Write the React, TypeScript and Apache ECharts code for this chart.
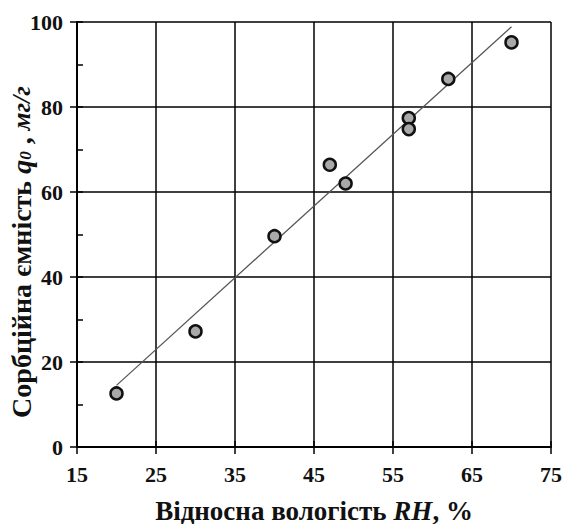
import React, { useEffect, useRef } from 'react';
import * as echarts from 'echarts';

const rhValues = [20, 30, 40, 47, 49, 57, 57, 62, 70];
const capacityValues = [12.6, 27.2, 49.6, 66.4, 62.0, 77.4, 74.8, 86.6, 95.2];
const fitX = [20, 70];
const fitY = [14.5, 98.9];
const xTickLabels = [15, 25, 35, 45, 55, 65, 75];
const yTickLabels = [0, 20, 40, 60, 80, 100];

const FONT = '"Liberation Serif", "DejaVu Serif", serif';
const TXT = '#111';
const TITLE_SIZE = 27;
const Y_TITLE_SIZE = 28;

export default function App() {
  const ref = useRef<HTMLDivElement>(null);
  useEffect(() => {
    if (!ref.current) return;
    const chart = echarts.init(ref.current, undefined, { renderer: 'svg' });
    const labelStyle = { fontFamily: FONT, fontWeight: 'bold' as const, fontSize: 22, color: TXT };
    chart.setOption({
      animation: false,
      backgroundColor: '#fff',
      grid: { left: 77, right: 15, top: 22, bottom: 77 },
      xAxis: [
        {
          type: 'value', min: xTickLabels[0], max: xTickLabels[xTickLabels.length - 1], interval: 10,
          position: 'bottom', offset: 0,
          axisLine: { show: false },
          axisTick: { show: true, inside: true, length: 6, lineStyle: { color: '#000', width: 1.5 } },
          axisLabel: { show: false },
          splitLine: { show: false },
        },
        {
          type: 'value', min: 0, max: xTickLabels[xTickLabels.length - 1] - xTickLabels[0], interval: 10,
          position: 'bottom', offset: 0,
          axisLine: { show: true, onZero: false, lineStyle: { color: '#000', width: 2 } },
          axisTick: { show: true, inside: false, length: 7, lineStyle: { color: '#000', width: 1.5 } },
          axisLabel: {
            ...labelStyle, margin: 16,
            formatter: (v: number) => String(xTickLabels[Math.round(v / 10)]),
          },
          splitLine: { show: true, lineStyle: { color: '#000', width: 1.5 } },
        },
      ],
      yAxis: [
        {
          type: 'value', min: yTickLabels[0], max: yTickLabels[yTickLabels.length - 1], interval: 20,
          position: 'left', offset: 0,
          axisLine: { show: true, onZero: false, lineStyle: { color: '#000', width: 2 } },
          axisTick: { show: true, inside: false, length: 7, lineStyle: { color: '#000', width: 1.5 } },
          axisLabel: { ...labelStyle, margin: 14 },
          splitLine: { show: true, lineStyle: { color: '#000', width: 1.5 } },
        },
        {
          type: 'value', min: 0, max: 100, interval: 10,
          position: 'left', offset: 0,
          axisLine: { show: false },
          axisTick: { show: true, inside: true, length: 6, lineStyle: { color: '#000', width: 1.5 } },
          axisLabel: { show: false },
          splitLine: { show: false },
        },
      ],
      series: [
        {
          type: 'line', xAxisIndex: 0, yAxisIndex: 0,
          data: fitX.map((x, i) => [x, fitY[i]]),
          symbol: 'none',
          lineStyle: { color: '#555', width: 1.3 },
          z: 3,
        },
        {
          type: 'scatter', xAxisIndex: 0, yAxisIndex: 0,
          data: rhValues.map((x, i) => [x, capacityValues[i]]),
          symbol: 'circle', symbolSize: 12,
          itemStyle: { color: '#a9a9a9', borderColor: '#111', borderWidth: 2.5, opacity: 1 },
          z: 4,
        },
      ],
      graphic: [
        {
          type: 'text',
          x: 314, y: 524,
          style: {
            text: '{b|Відносна вологість }{bi|RH}{b|, %}',
            align: 'center', verticalAlign: 'bottom',
            rich: {
              b: { fontFamily: FONT, fontWeight: 'bold', fontSize: TITLE_SIZE, lineHeight: TITLE_SIZE, fill: TXT, color: TXT },
              bi: { fontFamily: FONT, fontWeight: 'bold', fontStyle: 'italic', fontSize: TITLE_SIZE, lineHeight: TITLE_SIZE, fill: TXT, color: TXT },
            },
          },
        },
        {
          type: 'text',
          x: 21, y: 252,
          rotation: Math.PI / 2,
          style: {
            text: '{b|Сорбційна ємність }{bi|q}{s|0}{b| , }{i|мг/г}',
            align: 'center', verticalAlign: 'middle',
            rich: {
              b: { fontFamily: FONT, fontWeight: 'bold', fontSize: Y_TITLE_SIZE, fill: TXT, color: TXT },
              bi: { fontFamily: FONT, fontWeight: 'bold', fontStyle: 'italic', fontSize: Y_TITLE_SIZE, fill: TXT, color: TXT },
              s: { fontFamily: FONT, fontWeight: 'bold', fontStyle: 'italic', fontSize: 17, fill: TXT, color: TXT, padding: [9, 0, 0, 0] },
              i: { fontFamily: FONT, fontWeight: 'bold', fontStyle: 'italic', fontSize: 26, fill: TXT, color: TXT },
            },
          },
        },
      ],
    });
    return () => chart.dispose();
  }, []);
  return <div ref={ref} style={{ width: 566, height: 524, position: 'absolute', left: 0, top: 0 }} />;
}
